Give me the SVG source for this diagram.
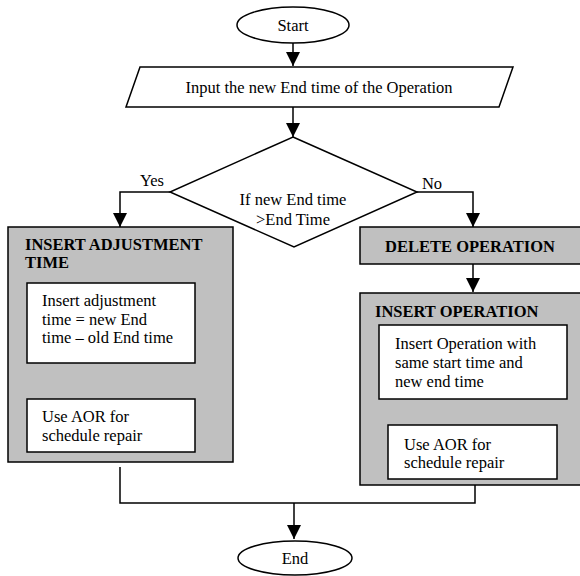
<svg xmlns="http://www.w3.org/2000/svg" width="580" height="576" viewBox="0 0 580 576">
<style>
.s{fill:none;stroke:#000;stroke-width:1.5}
.w{fill:#fff;stroke:#000;stroke-width:1.5}
.g{fill:#c0c0c0;stroke:#000;stroke-width:1.5}
.t{font-family:"Liberation Serif","Times New Roman",serif;font-size:16.5px;fill:#000}
.b{font-weight:bold}
.c{text-anchor:middle}
</style>
<defs>
<marker id="ah" markerUnits="userSpaceOnUse" markerWidth="14" markerHeight="14" refX="14" refY="7" orient="auto">
<path d="M0,0 L14,7 L0,14 z" fill="#000"/>
</marker>
</defs>
<rect width="580" height="576" fill="#fff"/>
<g id="connectors">
<path class="s" d="M293,43 V66" marker-end="url(#ah)"/>
<path class="s" d="M293,107 V137" marker-end="url(#ah)"/>
<path class="s" d="M170,192 H120 V227" marker-end="url(#ah)"/>
<path class="s" d="M417,192 H473 V227" marker-end="url(#ah)"/>
<path class="s" d="M473,264 V292" marker-end="url(#ah)"/>
<path class="s" d="M102,363 V393" marker-end="url(#ah)"/>
<path class="s" d="M472,399 V424" marker-end="url(#ah)"/>
<path class="s" d="M120,467 V503 H475 V485"/>
<path class="s" d="M294,503 V539" marker-end="url(#ah)"/>
</g>
<g id="start">
<ellipse class="w" cx="293" cy="25" rx="56" ry="18"/>
<text class="t c" x="293" y="31">Start</text>
</g>
<g id="input">
<polygon class="w" points="140,67 513,67 499,107 126,107"/>
<text class="t c" x="319" y="93">Input the new End time of the Operation</text>
</g>
<g id="decision">
<polygon class="w" points="293,137 417,192 294,247 170,192"/>
<text class="t c" x="293" y="205">If new End time</text>
<text class="t c" x="293" y="225">&gt;End Time</text>
</g>
<g id="label-yes"><text class="t c" x="152" y="186">Yes</text></g>
<g id="label-no"><text class="t c" x="432" y="189">No</text></g>
<g id="insert-adjustment">
<rect class="g" x="8" y="227" width="225" height="235"/>
<text class="t b" x="25" y="250">INSERT ADJUSTMENT</text>
<text class="t b" x="25" y="268">TIME</text>
</g>
<g id="adj-step1">
<rect class="w" x="27" y="283" width="168" height="80"/>
<text class="t" x="42" y="306">Insert adjustment</text>
<text class="t" x="42" y="325">time = new End</text>
<text class="t" x="42" y="343">time – old End time</text>
</g>
<g id="adj-step2">
<rect class="w" x="27" y="399" width="168" height="53"/>
<text class="t" x="42" y="422">Use AOR for</text>
<text class="t" x="42" y="441">schedule repair</text>
</g>
<g id="delete-operation">
<rect class="g" x="360" y="227" width="226" height="37"/>
<text class="t b c" x="470" y="252">DELETE OPERATION</text>
</g>
<g id="insert-operation">
<rect class="g" x="360" y="293" width="226" height="192"/>
<text class="t b" x="375" y="317">INSERT OPERATION</text>
</g>
<g id="ins-step1">
<rect class="w" x="379" y="325" width="188" height="74"/>
<text class="t" x="395" y="349">Insert Operation with</text>
<text class="t" x="395" y="368">same start time and</text>
<text class="t" x="395" y="387">new end time</text>
</g>
<g id="ins-step2">
<rect class="w" x="388" y="425" width="169" height="54"/>
<text class="t" x="404" y="450">Use AOR for</text>
<text class="t" x="404" y="468">schedule repair</text>
</g>
<g id="end">
<ellipse class="w" cx="295" cy="558" rx="57" ry="17"/>
<text class="t c" x="295" y="564">End</text>
</g>
</svg>
